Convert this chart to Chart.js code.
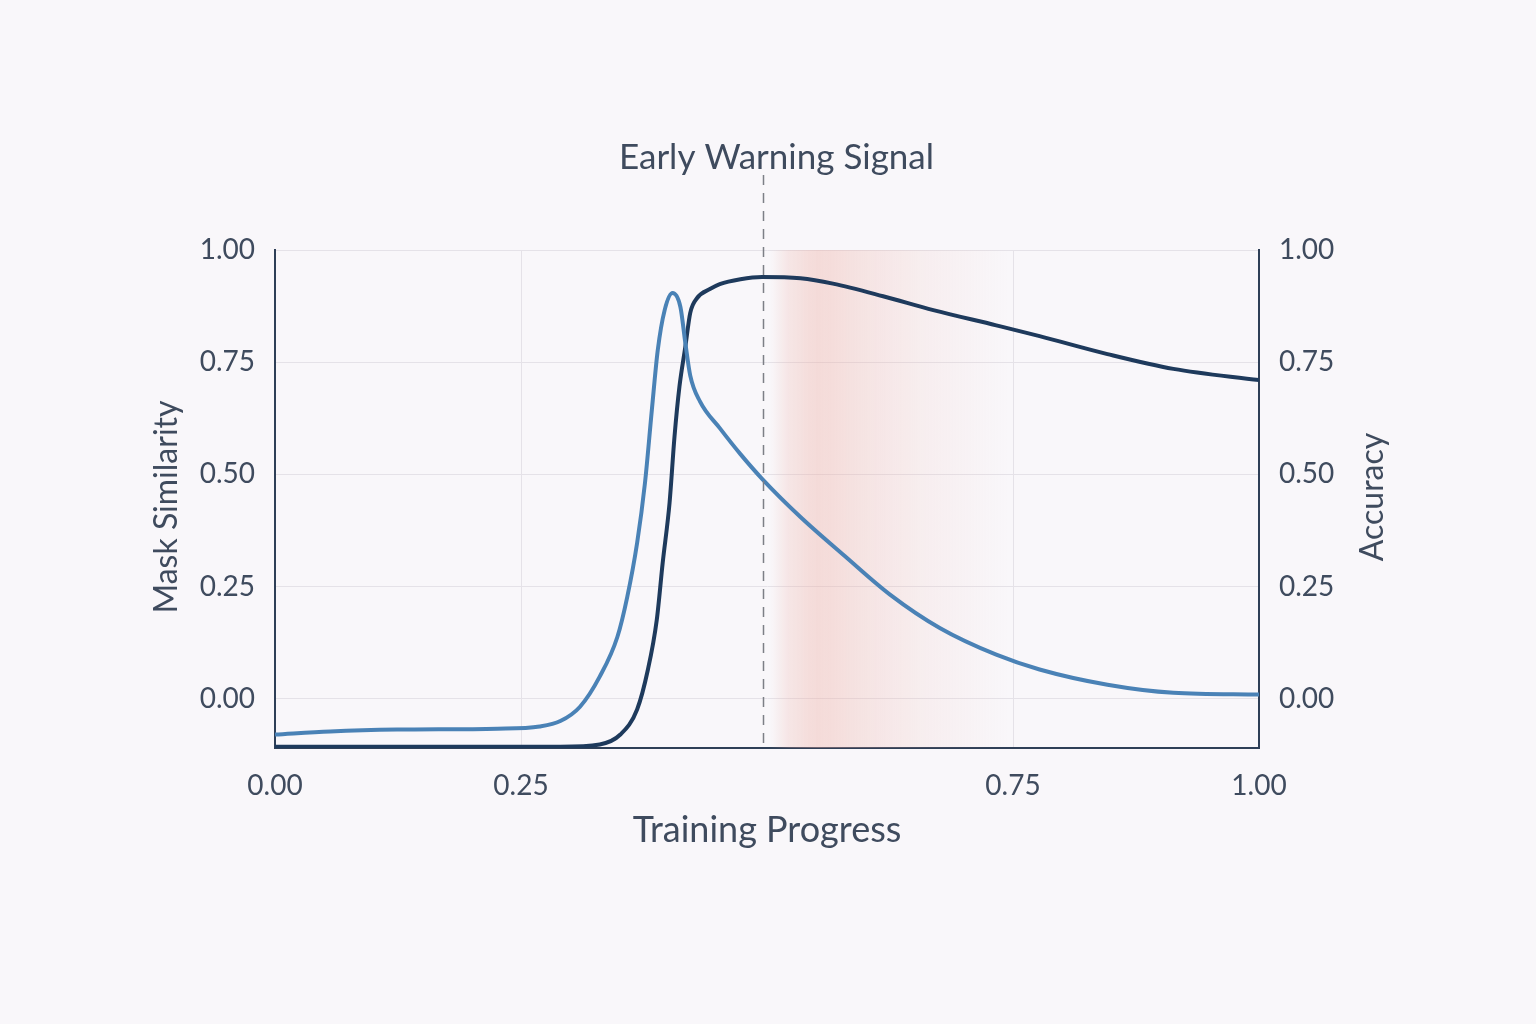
<!DOCTYPE html>
<html>
<head>
<meta charset="utf-8">
<script src="https://cdn.jsdelivr.net/npm/chart.js@4.4.1/dist/chart.umd.min.js"></script>
<style>
  html, body { margin: 0; padding: 0; background: #f9f7fa; }
  #wrap { width: 1536px; height: 1024px; }
</style>
</head>
<body>
<div id="wrap"><canvas id="chart" width="1536" height="1024"></canvas></div>
<script>
// Mask similarity (light blue)
const maskX = [0, 0.056, 0.124, 0.226, 0.269, 0.29, 0.31, 0.33, 0.348, 0.358, 0.368, 0.376, 0.383, 0.389, 0.396, 0.404, 0.412, 0.417, 0.422, 0.432, 0.452, 0.473, 0.495, 0.534, 0.579, 0.625, 0.676, 0.733, 0.777, 0.846, 0.913, 1.0];
const maskY = [-0.08, -0.073, -0.069, -0.067, -0.062, -0.05, -0.018, 0.049, 0.138, 0.227, 0.347, 0.481, 0.644, 0.777, 0.866, 0.904, 0.873, 0.793, 0.72, 0.662, 0.603, 0.545, 0.49, 0.405, 0.318, 0.232, 0.157, 0.098, 0.065, 0.031, 0.013, 0.009];

// Accuracy (dark navy)
const accX = [0, 0.249, 0.29, 0.33, 0.351, 0.368, 0.379, 0.388, 0.394, 0.401, 0.406, 0.411, 0.417, 0.422, 0.429, 0.442, 0.452, 0.473, 0.495, 0.534, 0.567, 0.618, 0.669, 0.733, 0.777, 0.846, 0.913, 1.0];
const accY = [-0.107, -0.107, -0.107, -0.102, -0.08, -0.024, 0.065, 0.176, 0.303, 0.437, 0.584, 0.695, 0.784, 0.86, 0.893, 0.913, 0.924, 0.935, 0.94, 0.937, 0.925, 0.897, 0.866, 0.832, 0.808, 0.768, 0.735, 0.71];

const xTicks = [0, 0.25, 0.5, 0.75, 1];
const yTicks = [0, 0.25, 0.5, 0.75, 1];
const warningX = 0.496;
const bandStart = 0.503;
const bandEnd = 0.745;

const FONT = "Lato, 'Open Sans', sans-serif";
const TEXT = "#3f4b5e";
const AXIS = "#2e3f57";
const GRID = "#e5e2e8";

const toPoints = (xs, ys) => xs.map((x, i) => ({ x: x, y: ys[i] }));

// vertical title, reading bottom to top
function sideTitle(ctx, text, x, y) {
  ctx.save();
  ctx.translate(x, y);
  ctx.rotate(-Math.PI / 2);
  ctx.font = "32px " + FONT;
  ctx.fillStyle = TEXT;
  ctx.textAlign = "center";
  ctx.textBaseline = "middle";
  ctx.fillText(text, 0, 0);
  ctx.restore();
}

// background band, dashed marker line, axis titles
const overlay = {
  id: "overlay",
  beforeDatasetsDraw(chart) {
    const { ctx, chartArea, scales } = chart;
    const x0 = scales.x.getPixelForValue(bandStart);
    const x1 = scales.x.getPixelForValue(bandEnd);
    const g = ctx.createLinearGradient(x0, 0, x1, 0);
    g.addColorStop(0, "rgba(236,168,156,0)");
    g.addColorStop(0.08, "rgba(236,168,156,0.22)");
    g.addColorStop(0.2, "rgba(236,168,156,0.36)");
    g.addColorStop(0.38, "rgba(236,168,156,0.25)");
    g.addColorStop(0.65, "rgba(236,168,156,0.11)");
    g.addColorStop(1, "rgba(236,168,156,0)");
    ctx.save();
    ctx.fillStyle = g;
    ctx.fillRect(x0, chartArea.top, x1 - x0, chartArea.bottom - chartArea.top);
    ctx.restore();
  },
  afterDatasetsDraw(chart) {
    const { ctx, chartArea, scales } = chart;
    const x = Math.round(scales.x.getPixelForValue(warningX)) + 0.5;
    ctx.save();
    ctx.strokeStyle = "#7d7f86";
    ctx.lineWidth = 1.5;
    ctx.setLineDash([10, 8]);
    ctx.beginPath();
    ctx.moveTo(x, 175);
    ctx.lineTo(x, chartArea.bottom);
    ctx.stroke();
    ctx.setLineDash([]);
    ctx.fillStyle = TEXT;
    ctx.font = "35px " + FONT;
    ctx.textAlign = "center";
    ctx.textBaseline = "middle";
    ctx.fillText("Early Warning Signal", x + 13, 158);
    ctx.restore();
    sideTitle(ctx, "Mask Similarity", 167, 507);
    sideTitle(ctx, "Accuracy", 1373, 497);
  }
};

const yAxis = (position, width) => ({
  type: "linear",
  position: position,
  min: -0.11,
  max: 1.0,
  afterBuildTicks: (axis) => { axis.ticks = yTicks.map((v) => ({ value: v })); },
  afterFit: (axis) => { axis.width = width; },
  grid: { display: position === "left", color: GRID, lineWidth: 1, drawTicks: false },
  border: { display: true, color: AXIS, width: 2 },
  ticks: {
    color: TEXT,
    font: { family: FONT, size: 28 },
    padding: 20,
    callback: (v) => Number(v).toFixed(2)
  }
});

new Chart(document.getElementById("chart"), {
  type: "line",
  data: {
    datasets: [
      {
        label: "Mask Similarity",
        data: toPoints(maskX, maskY),
        yAxisID: "y",
        borderColor: "#4a82b6",
        borderWidth: 4,
        pointRadius: 0,
        cubicInterpolationMode: "monotone",
        fill: false
      },
      {
        label: "Accuracy",
        data: toPoints(accX, accY),
        yAxisID: "y1",
        borderColor: "#1e3a5c",
        borderWidth: 4,
        pointRadius: 0,
        cubicInterpolationMode: "monotone",
        fill: false
      }
    ]
  },
  options: {
    responsive: false,
    devicePixelRatio: 1,
    animation: false,
    layout: { padding: { left: 144, right: 142, top: 250, bottom: 168 } },
    plugins: { legend: { display: false }, tooltip: { enabled: false } },
    scales: {
      x: {
        type: "linear",
        min: 0,
        max: 1,
        afterBuildTicks: (axis) => { axis.ticks = xTicks.map((v) => ({ value: v })); },
        afterFit: (axis) => { axis.height = 108; },
        grid: {
          color: (c) => (c.tick && c.tick.value === 0.5 ? "rgba(0,0,0,0)" : GRID),
          lineWidth: 1,
          drawTicks: false
        },
        border: { display: true, color: AXIS, width: 2 },
        ticks: {
          color: TEXT,
          font: { family: FONT, size: 28 },
          padding: 21,
          maxRotation: 0,
          callback: (v) => (v === 0.5 ? "" : Number(v).toFixed(2))
        },
        title: { display: true, text: "Training Progress", color: TEXT, font: { family: FONT, size: 36 } }
      },
      y: yAxis("left", 131),
      y1: yAxis("right", 135)
    }
  },
  plugins: [overlay]
});
</script>
</body>
</html>
